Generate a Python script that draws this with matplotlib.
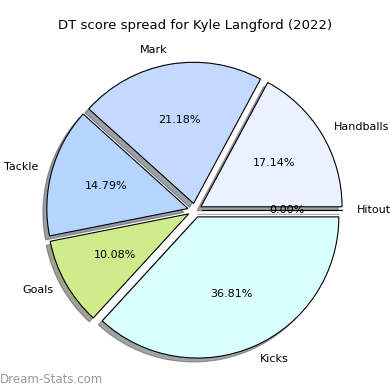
import matplotlib
matplotlib.use("Agg")
import matplotlib.pyplot as plt

# DT score spread data
labels = ['Hitout', 'Handballs', 'Mark', 'Tackle', 'Goals', 'Kicks']
values = [0.00, 17.14, 21.18, 14.79, 10.08, 36.81]
colors = ['#ffffff', '#eaf1ff', '#c5d9ff', '#b5d5ff', '#d0eb8c', '#daffff']
explode = [0.05] * len(values)

plt.rcParams['font.size'] = 8

fig = plt.figure(figsize=(3.9, 3.9), dpi=100)
ax = fig.add_axes([0.047, 0.008, 0.905, 0.905])

ax.pie(values, labels=labels, colors=colors, explode=explode,
       autopct='%1.2f%%', shadow=True, startangle=0,
       wedgeprops={'edgecolor': 'black', 'linewidth': 0.8})
ax.set_aspect('equal')

fig.suptitle('DT score spread for Kyle Langford (2022)', fontsize=9.5, y=0.952)
fig.text(0.0, 0.01, 'Dream-Stats.com', color='#999999', fontsize=8.5, ha='left', va='bottom')

fig.savefig('out.png')
